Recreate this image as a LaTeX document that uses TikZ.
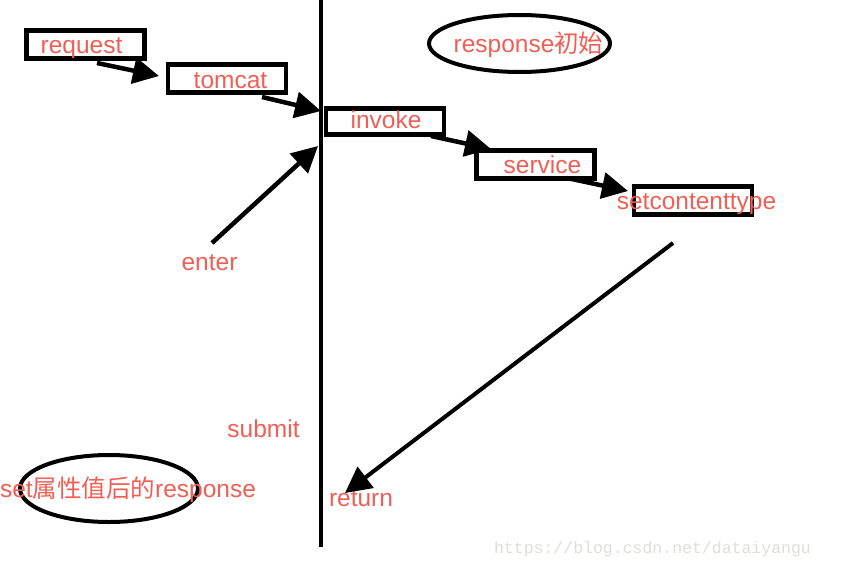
\documentclass[tikz,border=0pt]{standalone}
\usepackage{fontspec}
\setmainfont{Liberation Sans}
\newfontfamily\cjk{Noto Sans CJK SC}
\newfontfamily\wmfont{Liberation Mono}
\usetikzlibrary{arrows.meta,shapes.geometric}
\definecolor{txtred}{RGB}{240,95,85}
\definecolor{wmgray}{RGB}{222,222,218}
\tikzset{
  stepbox/.style={draw=black, line width=4.5pt, rectangle, minimum width=118pt, minimum height=28pt, inner sep=0pt},
  oval/.style={draw=black, line width=4pt, ellipse, inner sep=0pt},
  lbl/.style={text=txtred, font=\fontsize{24.5}{28}\selectfont, inner sep=0pt, anchor=base},
  wm/.style={text=wmgray, font=\wmfont\fontsize{16.5}{19}\selectfont, inner sep=0pt, anchor=base},
  flow/.style={line width=4.5pt, -{Triangle[length=26pt,width=26pt]}},
  axis/.style={line width=4pt}
}
\begin{document}
\begin{tikzpicture}[x=1pt,y=-1pt]
\useasboundingbox[fill=white] (0,0) rectangle (842,568);
% vertical line
\coordinate (vtop) at (321,0);
\coordinate (vbot) at (321,547);
\draw[axis] (vtop) -- (vbot);
% boxes
\node[stepbox] (req) at (85.5,44.5) {};
\node[stepbox] (tom) at (227,78.5) {};
\node[stepbox, minimum height=26pt] (inv) at (385,121.5) {};
\node[stepbox] (svc) at (535.5,164.5) {};
\node[stepbox] (sct) at (693,200.5) {};
% ellipses
\node[oval, minimum width=181pt, minimum height=57pt] (einit) at (519.5,43.5) {};
\node[oval, minimum width=178pt, minimum height=67pt] (eset) at (109,488.5) {};
% labels
\node[lbl] (reqt) at (81.5,53) {request};
\node[lbl] (tomt) at (230.5,88) {tomcat};
\node[lbl] (invt) at (386,128) {invoke};
\node[lbl] (svct) at (542.5,173) {service};
\node[lbl] (sctt) at (696.5,209) {setcontenttype};
\node[lbl] (entt) at (209.5,270) {enter};
\node[lbl] (subt) at (263.5,437) {submit};
\node[lbl] (rett) at (361,506) {return};
\node[lbl] (initt) at (528.5,52) {response{\cjk 初始}};
\node[lbl] (sett) at (128,497) {set{\cjk 属性值后的}response};
\node[wm] (wmark) at (652.5,553) {https://blog.csdn.net/dataiyangu};
% arrow end points
\coordinate (a1s) at (97,63);   \coordinate (a1e) at (159,76);
\coordinate (a2s) at (262,97);  \coordinate (a2e) at (321,111);
\coordinate (a3s) at (431,136); \coordinate (a3e) at (491,149);
\coordinate (a4s) at (567,178); \coordinate (a4e) at (628,191);
\coordinate (ens) at (212,243); \coordinate (ene) at (318,146);
\coordinate (rts) at (673,243); \coordinate (rte) at (345,493);
\draw[flow] (a1s) -- (a1e);
\draw[flow] (a2s) -- (a2e);
\draw[flow] (a3s) -- (a3e);
\draw[flow] (a4s) -- (a4e);
\draw[flow] (ens) -- (ene);
\draw[flow, line width=4pt] (rts) -- (rte);
\end{tikzpicture}
\end{document}
